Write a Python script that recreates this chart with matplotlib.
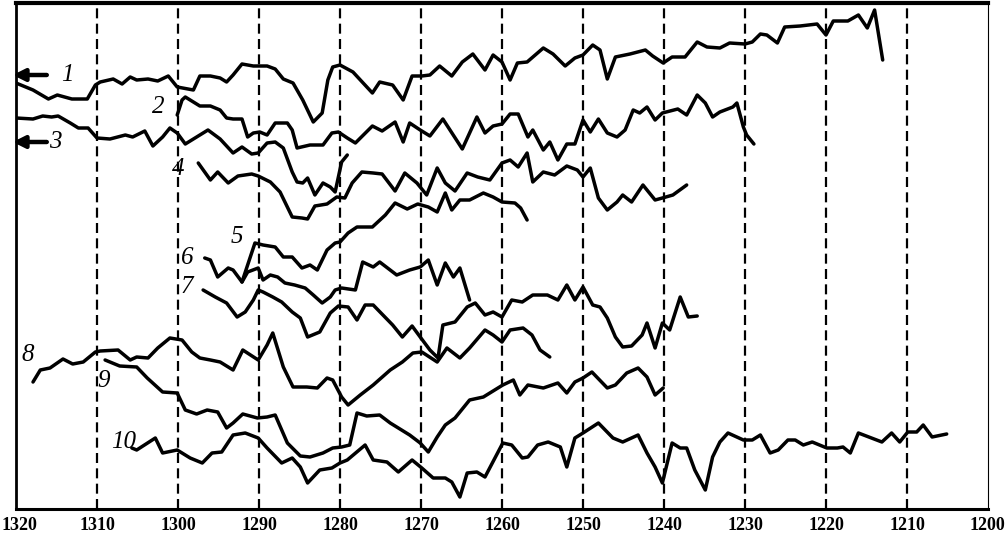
import matplotlib
matplotlib.use("Agg")
import matplotlib.pyplot as plt
from matplotlib.transforms import ScaledTranslation

# ---- data (x: wavenumber-like axis, y: arbitrary offset signal) ----
x1 = [1320.0, 1317.9, 1316.0, 1314.9, 1313.1, 1311.2, 1310.2, 1309.6, 1308.0, 1306.9, 1305.9, 1305.1,
      1303.7, 1302.5, 1301.2, 1300.1, 1298.1, 1297.3, 1296.0, 1294.8, 1294.0, 1293.2, 1292.1, 1290.7,
      1289.0, 1288.0, 1287.0, 1285.8, 1284.6, 1283.3, 1282.2, 1281.5, 1280.9, 1280.0, 1278.4, 1276.0,
      1275.1, 1273.5, 1272.2, 1271.1, 1269.9, 1268.9, 1267.7, 1266.2, 1264.9, 1263.6, 1262.1, 1261.1,
      1260.0, 1259.0, 1258.1, 1256.9, 1254.9, 1253.7, 1252.2, 1251.0, 1250.0, 1248.8, 1247.9, 1247.0,
      1246.0, 1244.2, 1242.3, 1241.4, 1240.1, 1239.0, 1237.4, 1235.9, 1234.7, 1233.1, 1231.9, 1230.0,
      1229.1, 1228.1, 1227.3, 1226.0, 1225.1, 1223.2, 1221.1, 1220.0, 1219.1, 1217.3, 1216.0, 1214.9,
      1214.0, 1213.0]
y1 = [42.6, 41.9, 41.0, 41.4, 41.0, 41.0, 42.4, 42.7, 43.0, 42.5, 43.2, 42.9,
      43.0, 42.8, 43.3, 42.2, 41.9, 43.3, 43.3, 43.1, 42.7, 43.4, 44.5, 44.3,
      44.3, 44.0, 43.0, 42.6, 40.9, 38.7, 39.6, 42.9, 44.2, 44.4, 43.7, 41.6,
      42.7, 42.4, 40.9, 43.3, 43.3, 43.4, 44.3, 43.3, 44.7, 45.5, 43.9, 45.4,
      44.7, 42.9, 44.6, 44.7, 46.1, 45.5, 44.3, 45.1, 45.4, 46.4, 45.9, 43.0,
      45.2, 45.5, 45.9, 45.3, 44.6, 45.2, 45.2, 46.7, 46.2, 46.1, 46.6, 46.5,
      46.7, 47.5, 47.4, 46.6, 48.2, 48.3, 48.5, 47.4, 48.8, 48.8, 49.4, 48.1,
      49.9, 44.9]

x2 = [1300.1, 1299.5, 1299.1, 1297.3, 1296.0, 1294.8, 1294.0, 1293.2, 1292.1, 1291.4, 1290.7, 1289.9,
      1289.0, 1288.0, 1286.5, 1285.9, 1285.3, 1283.7, 1282.1, 1281.0, 1280.2, 1279.1, 1278.1, 1276.0,
      1274.8, 1273.2, 1272.2, 1271.4, 1270.1, 1268.9, 1267.3, 1264.9, 1263.1, 1262.1, 1261.1, 1260.0,
      1259.0, 1258.0, 1256.8, 1256.2, 1254.9, 1254.1, 1253.1, 1252.0, 1251.0, 1250.0, 1249.1, 1248.1,
      1247.0, 1245.8, 1244.8, 1243.8, 1243.0, 1242.1, 1241.1, 1240.2, 1238.3, 1237.2, 1235.9, 1234.9,
      1234.0, 1233.1, 1231.5, 1231.0, 1230.2, 1229.8, 1228.9]
y2 = [39.4, 40.9, 41.2, 40.3, 40.3, 39.9, 39.1, 39.0, 39.0, 37.2, 37.6, 37.7,
      37.4, 38.6, 38.6, 37.9, 36.1, 36.4, 36.4, 37.6, 37.7, 37.1, 36.6, 38.3,
      37.8, 38.7, 36.7, 38.6, 37.9, 37.3, 39.0, 36.0, 39.2, 37.6, 38.3, 38.5,
      39.5, 39.5, 37.2, 37.9, 35.9, 36.7, 34.9, 36.5, 36.5, 38.9, 37.7, 39.0,
      37.6, 37.2, 37.9, 39.9, 39.6, 40.2, 38.9, 39.6, 40.0, 39.4, 41.4, 40.6,
      39.2, 39.7, 40.2, 40.6, 38.2, 37.4, 36.5]

x3 = [1320.0, 1317.9, 1316.7, 1315.6, 1314.8, 1313.3, 1312.3, 1311.1, 1310.0, 1308.4, 1306.5, 1305.6,
      1304.1, 1303.1, 1301.9, 1301.0, 1300.1, 1299.1, 1297.7, 1296.3, 1294.8, 1293.2, 1292.1, 1290.9,
      1290.1, 1289.0, 1288.0, 1287.0, 1285.9, 1285.3, 1284.6, 1284.0, 1283.1, 1282.1, 1281.2, 1280.6,
      1280.2, 1279.8, 1279.1]
y3 = [39.1, 39.0, 39.3, 39.2, 39.3, 38.6, 38.1, 38.1, 37.1, 37.0, 37.4, 37.2,
      37.8, 36.3, 37.2, 38.1, 37.6, 36.5, 37.2, 37.9, 37.0, 35.6, 36.2, 35.5,
      35.6, 36.6, 36.7, 36.1, 33.7, 32.7, 32.6, 33.1, 31.4, 32.6, 32.2, 31.7,
      33.2, 34.7, 35.4]

x4 = [1297.5, 1296.0, 1295.1, 1293.8, 1292.6, 1290.9, 1290.1, 1288.6, 1287.4, 1285.9, 1284.7, 1284.0,
      1283.1, 1281.6, 1280.4, 1279.4, 1278.5, 1277.3, 1275.9, 1274.8, 1273.2, 1272.0, 1270.5, 1269.3,
      1268.0, 1267.0, 1265.8, 1264.3, 1263.0, 1261.5, 1260.0, 1259.0, 1258.0, 1256.9, 1256.2, 1254.9,
      1253.5, 1252.0, 1250.7, 1250.0, 1249.1, 1248.1, 1247.0, 1245.8, 1245.1, 1244.0, 1242.6, 1241.1,
      1240.2, 1238.9, 1237.2]
y4 = [34.6, 32.9, 33.7, 32.6, 33.3, 33.5, 33.3, 32.7, 31.7, 29.2, 29.1, 29.0,
      30.3, 30.5, 31.2, 31.1, 32.6, 33.7, 33.6, 33.5, 31.8, 33.6, 32.6, 31.4,
      34.1, 32.6, 31.8, 33.6, 33.2, 32.9, 34.6, 34.9, 34.2, 35.6, 32.7, 33.7,
      33.4, 34.3, 33.9, 33.2, 34.1, 31.1, 29.9, 30.7, 31.4, 30.7, 32.4, 30.9,
      31.1, 31.4, 32.4]

x5 = [1292.1, 1290.5, 1289.5, 1288.0, 1287.0, 1285.9, 1284.7, 1283.7, 1282.8, 1281.6, 1280.6, 1280.0,
      1279.0, 1277.9, 1276.0, 1274.4, 1273.2, 1271.7, 1270.4, 1269.1, 1268.0, 1267.0, 1266.2, 1265.2,
      1264.0, 1262.3, 1261.1, 1260.0, 1258.4, 1257.7, 1256.9]
y5 = [22.7, 26.6, 26.4, 26.2, 25.2, 25.2, 24.1, 24.4, 23.9, 25.9, 26.6, 26.7,
      27.6, 28.2, 28.2, 29.4, 30.6, 30.0, 30.5, 30.2, 29.7, 31.6, 29.9, 30.9,
      30.9, 31.6, 31.2, 30.7, 30.6, 30.1, 28.9]

x6 = [1296.7, 1296.0, 1295.1, 1293.8, 1293.2, 1292.1, 1291.4, 1290.1, 1289.5, 1288.6, 1287.7, 1286.8,
      1285.6, 1284.3, 1283.3, 1282.2, 1281.2, 1280.6, 1279.8, 1278.1, 1277.2, 1275.9, 1275.1, 1273.0,
      1271.4, 1270.1, 1269.1, 1268.0, 1267.0, 1266.0, 1265.2, 1264.0]
y6 = [25.1, 24.9, 23.2, 24.1, 23.9, 22.7, 23.7, 24.1, 22.9, 23.4, 23.2, 22.6,
      22.4, 22.1, 21.4, 20.6, 21.2, 21.9, 22.1, 21.9, 24.7, 24.2, 24.7, 23.4,
      23.9, 24.2, 24.9, 22.4, 24.6, 23.2, 24.1, 20.9]

x7 = [1296.9, 1295.4, 1294.0, 1292.7, 1291.7, 1290.7, 1290.1, 1289.5, 1288.3, 1287.2, 1285.9, 1284.9,
      1284.0, 1282.5, 1281.2, 1280.2, 1279.0, 1277.9, 1276.9, 1275.9, 1274.7, 1273.5, 1272.3, 1271.1,
      1270.1, 1268.9, 1267.9, 1267.3, 1265.8, 1264.3, 1263.3, 1262.1, 1261.1, 1260.0, 1258.8, 1257.5,
      1256.2, 1254.4, 1253.1, 1252.0, 1251.0, 1250.0, 1248.8, 1247.9, 1247.0, 1246.0, 1245.1, 1244.0,
      1242.7, 1242.1, 1241.1, 1240.2, 1239.3, 1238.0, 1237.0, 1235.9]
y7 = [21.9, 21.2, 20.6, 19.2, 19.7, 20.9, 21.9, 21.7, 21.2, 20.7, 19.7, 19.1,
      17.2, 17.7, 19.6, 20.3, 20.2, 18.9, 20.4, 20.4, 19.4, 18.4, 17.2, 18.3,
      17.2, 15.9, 15.1, 18.4, 18.7, 20.2, 20.6, 19.4, 19.7, 19.2, 20.9, 20.7,
      21.4, 21.4, 20.9, 22.4, 20.9, 22.2, 20.4, 20.2, 19.1, 17.2, 16.2, 16.3,
      17.4, 18.6, 16.1, 18.6, 17.9, 21.2, 19.2, 19.3]

x8 = [1317.9, 1317.0, 1315.8, 1314.2, 1313.0, 1311.7, 1310.2, 1309.6, 1307.4, 1305.9, 1305.1, 1303.7,
      1302.5, 1301.0, 1299.5, 1298.3, 1297.3, 1296.0, 1294.8, 1293.2, 1292.0, 1290.1, 1289.0, 1288.3,
      1287.0, 1285.8, 1284.1, 1282.8, 1281.6, 1280.9, 1279.8, 1279.0, 1277.5, 1275.9, 1273.8, 1272.3,
      1271.0, 1269.9, 1268.0, 1266.8, 1265.2, 1264.0, 1262.1, 1261.1, 1260.0, 1259.0, 1257.4, 1256.3,
      1255.3, 1254.1]
y8 = [12.7, 13.9, 14.1, 15.0, 14.5, 14.7, 15.7, 15.8, 15.9, 14.9, 15.2, 15.1,
      16.1, 17.1, 16.9, 15.7, 15.1, 14.9, 14.7, 13.9, 15.9, 14.9, 16.4, 17.6,
      14.2, 12.2, 12.2, 12.1, 13.1, 12.9, 11.2, 10.4, 11.4, 12.4, 13.9, 14.7,
      15.6, 15.7, 14.7, 16.1, 15.1, 16.1, 17.9, 17.4, 16.7, 17.9, 18.1, 17.4,
      15.9, 15.2]

x9 = [1309.0, 1307.2, 1305.1, 1303.8, 1301.9, 1300.1, 1299.1, 1297.7, 1296.4, 1295.1, 1294.0, 1293.2,
      1292.0, 1290.2, 1289.0, 1288.0, 1286.5, 1284.9, 1283.7, 1282.1, 1280.9, 1279.8, 1278.8, 1277.9,
      1276.7, 1275.1, 1273.8, 1272.8, 1271.4, 1270.1, 1269.1, 1268.0, 1267.0, 1265.8, 1264.0, 1262.3,
      1259.9, 1258.6, 1257.8, 1256.8, 1254.9, 1253.1, 1252.0, 1251.0, 1250.0, 1248.9, 1247.0, 1246.0,
      1244.6, 1243.2, 1242.1, 1241.1, 1240.1]
y9 = [14.9, 14.3, 14.2, 13.1, 11.7, 11.6, 9.9, 9.5, 9.9, 9.7, 8.1, 8.6,
      9.5, 9.1, 9.2, 9.4, 6.6, 5.3, 5.2, 5.6, 6.1, 6.2, 6.4, 9.6,
      9.3, 9.4, 8.6, 8.1, 7.4, 6.6, 5.7, 7.2, 8.4, 9.1, 10.9, 11.2,
      12.4, 12.9, 11.4, 12.4, 12.1, 12.6, 11.6, 12.7, 13.1, 13.7, 12.1, 12.4,
      13.6, 14.1, 13.2, 11.4, 12.1]

x10 = [1305.7, 1305.1, 1302.8, 1301.9, 1300.1, 1298.5, 1297.0, 1295.8, 1294.6, 1293.2, 1291.7, 1290.1,
       1289.0, 1287.2, 1285.9, 1284.9, 1284.0, 1282.5, 1281.0, 1280.0, 1279.1, 1276.9, 1275.9, 1274.2,
       1272.8, 1271.1, 1269.9, 1268.5, 1267.0, 1266.2, 1265.2, 1264.3, 1263.1, 1262.1, 1259.9, 1258.8,
       1257.5, 1256.8, 1255.6, 1254.3, 1252.8, 1252.0, 1251.0, 1250.0, 1248.1, 1246.3, 1245.1, 1243.2,
       1242.1, 1241.1, 1240.2, 1239.0, 1238.0, 1237.2, 1236.2, 1234.9, 1234.0, 1233.1, 1232.1, 1230.2,
       1229.1, 1228.1, 1226.9, 1225.9, 1224.7, 1223.8, 1222.8, 1221.7, 1219.9, 1218.6, 1217.9, 1217.0,
       1216.0, 1213.1, 1211.9, 1210.9, 1209.9, 1208.8, 1208.0, 1206.9, 1205.1]
y10 = [6.1, 5.9, 7.1, 5.6, 5.9, 5.1, 4.6, 5.6, 5.7, 7.4, 7.6, 7.1,
       6.1, 4.6, 5.1, 4.2, 2.6, 3.9, 4.1, 4.6, 4.9, 6.4, 4.9, 4.7,
       3.7, 4.9, 4.1, 3.1, 3.1, 2.7, 1.2, 3.6, 3.7, 3.2, 6.6, 6.4,
       5.1, 5.2, 6.4, 6.7, 6.2, 4.2, 7.1, 7.6, 8.6, 7.1, 6.7, 7.4,
       5.6, 4.2, 2.6, 6.6, 6.1, 6.1, 3.9, 1.9, 5.2, 6.7, 7.6, 6.9,
       6.9, 7.4, 5.6, 5.9, 6.9, 6.9, 6.4, 6.7, 6.1, 6.1, 6.2, 5.6,
       7.6, 6.7, 7.6, 6.7, 7.7, 7.7, 8.4, 7.2, 7.5]

series = [(x1, y1), (x2, y2), (x3, y3), (x4, y4), (x5, y5),
          (x6, y6), (x7, y7), (x8, y8), (x9, y9), (x10, y10)]

curve_labels = ["1", "2", "3", "4", "5", "6", "7", "8", "9", "10"]
label_x = [1313.6, 1302.4, 1315.2, 1300.0, 1292.7, 1298.9, 1298.9, 1318.6, 1309.2, 1306.7]
label_y = [43.4, 40.2, 36.7, 34.0, 27.2, 25.1, 22.2, 15.4, 12.8, 6.7]

xticks = [1320, 1310, 1300, 1290, 1280, 1270, 1260, 1250, 1240, 1230, 1220, 1210, 1200]
grid_x = [1310, 1300, 1290, 1280, 1270, 1260, 1250, 1240, 1230, 1220, 1210]

# ---- figure ----
fig = plt.figure(figsize=(10.07, 5.35), dpi=100)
ax = fig.add_axes([16 / 1007, 1 - 509 / 535, (988 - 16) / 1007, (509 - 3) / 535])

for gx in grid_x:
    ax.axvline(gx, color="black", lw=1.6, linestyle=(0, (4.5, 2.4)), zorder=1)

for xs, ys in series:
    ax.plot(xs, ys, color="black", lw=2.5, solid_joinstyle="round",
            solid_capstyle="round", zorder=3)

for lab, lx, ly in zip(curve_labels, label_x, label_y):
    ax.text(lx, ly, lab, fontsize=18, fontstyle="italic", family="Liberation Serif",
            ha="center", va="center", zorder=4)

# arrows at the left edge for curves 1 and 3
for ay in (43.4, 36.7):
    ax.annotate("", xy=(1320.4, ay), xytext=(1316.2, ay),
                arrowprops=dict(arrowstyle="-|>,head_length=0.7,head_width=0.35",
                                color="black", lw=3.2, shrinkA=0, shrinkB=0),
                annotation_clip=False, zorder=5)

ax.set_xlim(1320, 1200)
ax.set_ylim(0, 50.6)
ax.set_xticks(xticks)
ax.set_xticklabels([str(t) for t in xticks], family="Liberation Serif",
                   fontsize=13, fontweight="bold")
ax.tick_params(axis="x", length=0, pad=6)
ax.set_yticks([])

# keep the first and last tick labels inside the canvas
tlabels = ax.get_xticklabels()
tlabels[0].set_transform(tlabels[0].get_transform()
                         + ScaledTranslation(3 / 100, 0, fig.dpi_scale_trans))
tlabels[-1].set_transform(tlabels[-1].get_transform()
                          + ScaledTranslation(-1 / 100, 0, fig.dpi_scale_trans))

for side, lw in (("left", 2.0), ("bottom", 2.2), ("top", 3.0), ("right", 0.8)):
    ax.spines[side].set_linewidth(lw)
    ax.spines[side].set_color("black")

fig.savefig("out.png", dpi=100)
